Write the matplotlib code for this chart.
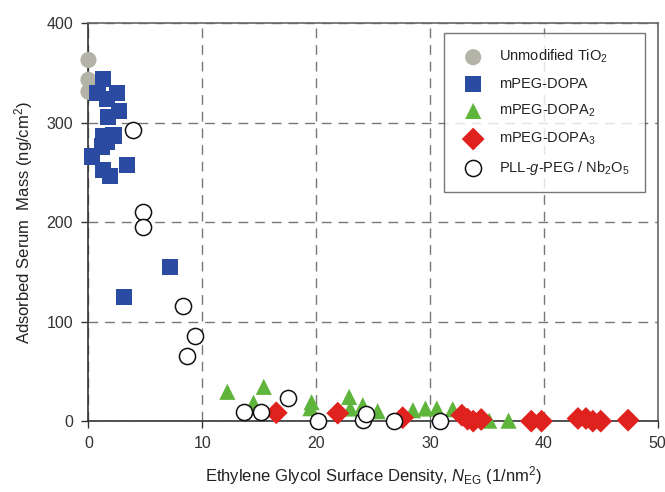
import matplotlib
matplotlib.use("Agg")
import matplotlib.pyplot as plt

plt.rcParams['font.family'] = ['Liberation Sans', 'DejaVu Sans']
plt.rcParams['mathtext.fontset'] = 'custom'
plt.rcParams['mathtext.rm'] = 'Liberation Sans'
plt.rcParams['mathtext.it'] = 'Liberation Sans:italic'
plt.rcParams['mathtext.bf'] = 'Liberation Sans:bold'

# Unmodified TiO2
tio2_x = [0.0, 0.0, 0.0]
tio2_y = [363, 343, 331]

# mPEG-DOPA
dopa1_x = [1.3, 0.8, 1.6, 2.5, 2.7, 1.7, 1.3, 2.2, 1.6, 1.2, 0.35, 1.3, 1.9, 3.4, 3.1, 7.2]
dopa1_y = [344, 330, 324, 330, 312, 306, 286, 287, 281, 276, 266, 252, 246, 257, 125, 155]

# mPEG-DOPA2
dopa2_x = [12.2, 15.4, 14.5, 19.6, 19.5, 22.9, 23.0, 24.1, 25.4, 28.5, 29.6, 30.6, 32.0, 35.2, 36.9]
dopa2_y = [29.5, 34.5, 18.4, 19.0, 13.0, 24.4, 12.7, 16.0, 10.0, 11.0, 12.7, 12.7, 12.0, 0.5, 0.5]

# mPEG-DOPA3
dopa3_x = [16.5, 21.9, 27.6, 32.8, 33.3, 33.8, 34.5, 38.9, 39.8, 43.0, 43.7, 44.3, 45.0, 47.4]
dopa3_y = [8.4, 8.0, 3.5, 6.0, 2.0, 0.0, 1.7, 0.0, 0.0, 2.7, 2.7, 0.0, 0.0, 1.0]

# PLL-g-PEG / Nb2O5
pll_x = [3.9, 4.8, 4.8, 8.3, 9.4, 8.7, 13.7, 15.2, 17.5, 20.2, 24.1, 24.4, 26.8, 30.9]
pll_y = [293, 210, 195, 116, 86, 65, 9.5, 9.5, 23, 0.5, 1.0, 7.5, 0.5, 0.5]

xticks = [0, 10, 20, 30, 40, 50]
yticks = [0, 100, 200, 300, 400]

fig = plt.figure(figsize=(6.65, 4.92), dpi=100)
ax = fig.add_axes([0.133, 0.144, 0.856, 0.809])

ax.set_xlim(0, 50)
ax.set_ylim(0, 400)
ax.set_xticks(xticks)
ax.set_yticks(yticks)
ax.grid(True, color='#777777', linestyle=(0, (7, 5)), linewidth=1.0)
ax.set_axisbelow(True)
for s in ax.spines.values():
    s.set_color('#333333')
    s.set_linewidth(1.2)
ax.spines['right'].set_color('#666666')
ax.spines['top'].set_color('#666666')
ax.tick_params(axis='both', direction='out', length=5, width=1.0, color='#333333',
               labelsize=11.5, labelcolor='#333333', pad=6)

ms = 135
ax.scatter(tio2_x, tio2_y, s=ms, marker='o', color='#b3b3a8', edgecolors='none',
           label='Unmodified TiO$_2$', clip_on=False, zorder=3)
ax.scatter(dopa1_x, dopa1_y, s=ms, marker='s', color='#2b4ba3', edgecolors='none',
           label='mPEG-DOPA', clip_on=False, zorder=3)
ax.scatter(dopa2_x, dopa2_y, s=ms, marker='^', color='#5fb43c', edgecolors='none',
           label='mPEG-DOPA$_2$', clip_on=False, zorder=3)
ax.scatter(dopa3_x, dopa3_y, s=ms, marker='D', color='#e0221f', edgecolors='none',
           label='mPEG-DOPA$_3$', clip_on=False, zorder=3)
ax.scatter(pll_x, pll_y, s=ms, marker='o', facecolors='white', edgecolors='#111111',
           linewidths=1.1, label='PLL-$\\mathit{g}$-PEG / Nb$_2$O$_5$', clip_on=False, zorder=4)

leg = ax.legend(loc='upper right', bbox_to_anchor=(0.985, 0.985), frameon=True, fancybox=False,
                fontsize=10.5, labelspacing=0.8, handletextpad=0.8, borderpad=1.0,
                borderaxespad=0.3, scatterpoints=1)
leg.get_frame().set_edgecolor('#555555')
leg.get_frame().set_linewidth(1.0)
for t in leg.get_texts():
    t.set_color('#222222')

ax.set_xlabel('Ethylene Glycol Surface Density, $\\mathit{N}_{\\mathrm{EG}}$ (1/nm$^2$)',
              fontsize=12, color='#222222', labelpad=9)
ax.set_ylabel('Adsorbed Serum  Mass (ng/cm$^2$)', fontsize=12, color='#222222', labelpad=8)

fig.savefig('out.png', dpi=100)
